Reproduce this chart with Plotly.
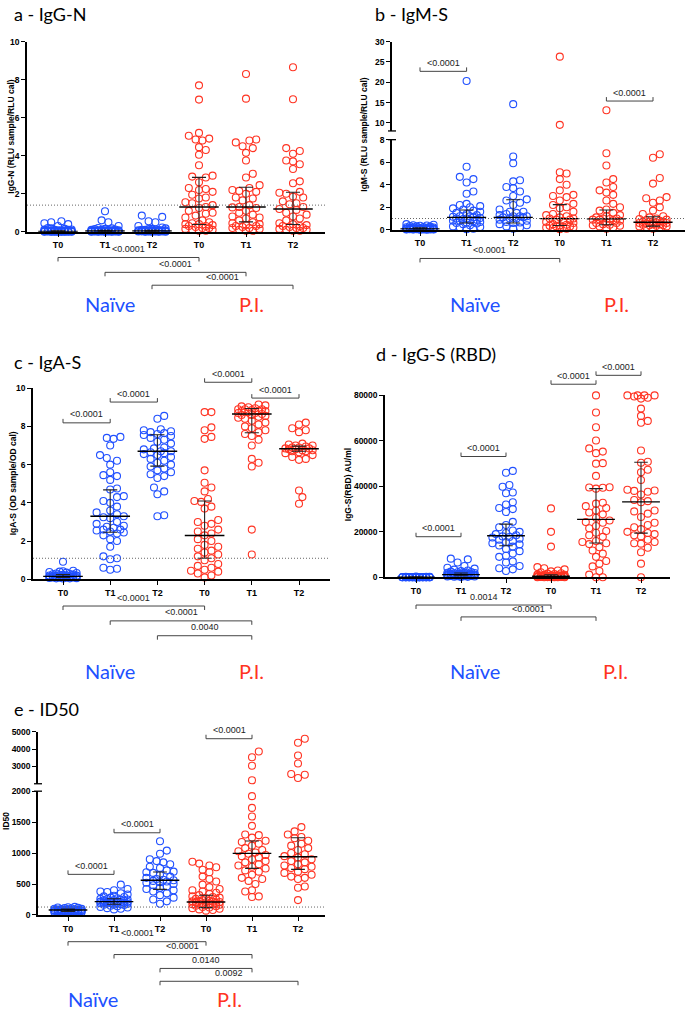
import numpy as np
import plotly.graph_objects as go

W, H = 685, 1016
BLUE = '#2050ff'
RED = '#ff3322'
GROUPS = ['T0', 'T1', 'T2', 'T0', 'T1', 'T2']

# ------------------------------------------------------------------ data
# a - IgG-N
a_naive_t0 = [0.55, 0.5, 0.45, 0.4, 0.3, 0.2, 0.18, 0.15, 0.12, 0.12, 0.1, 0.1, 0.08, 0.08, 0.07, 0.06, 0.06,
              0.05, 0.05, 0.05, 0.04, 0.04, 0.04, 0.03, 0.03, 0.03, 0.03, 0.02, 0.02, 0.02, 0.02, 0.02, 0.01,
              0.01, 0.01, 0.01, 0.01, 0.01, 0.0, 0.0, 0.0, 0.0, 0.0, 0.0, 0.0, 0.0]
a_naive_t1 = [1.08, 0.6, 0.5, 0.3, 0.2, 0.18, 0.15, 0.14, 0.12, 0.1, 0.1, 0.09, 0.08, 0.08, 0.07, 0.07, 0.06,
              0.06, 0.05, 0.05, 0.05, 0.04, 0.04, 0.04, 0.04, 0.03, 0.03, 0.03, 0.03, 0.02, 0.02, 0.02, 0.02,
              0.02, 0.01, 0.01, 0.01, 0.01, 0.01, 0.0, 0.0, 0.0, 0.0, 0.0]
a_naive_t2 = [0.85, 0.78, 0.55, 0.5, 0.3, 0.22, 0.18, 0.15, 0.14, 0.12, 0.1, 0.1, 0.09, 0.08, 0.08, 0.07, 0.07,
              0.06, 0.06, 0.05, 0.05, 0.05, 0.04, 0.04, 0.04, 0.03, 0.03, 0.03, 0.02, 0.02, 0.02, 0.02, 0.01,
              0.01, 0.01, 0.01, 0.0, 0.0, 0.0, 0.0]
a_pi_t0 = [7.7, 6.95, 5.2, 5.05, 4.9, 4.85, 4.8, 4.45, 4.3, 4.05, 3.5, 2.95, 2.9, 2.85, 2.6, 2.3, 2.25, 2.2, 2.1,
           1.95, 1.8, 1.75, 1.55, 1.5, 1.4, 1.3, 1.25, 1.1, 1.0, 0.95, 0.85, 0.75, 0.6, 0.5, 0.45, 0.4, 0.4,
           0.35, 0.3, 0.3, 0.25, 0.2, 0.2, 0.15, 0.1, 0.1, 0.05, 0.05]
a_pi_t1 = [8.3, 7.0, 4.85, 4.8, 4.7, 4.5, 4.4, 4.15, 3.75, 3.05, 2.85, 2.45, 2.3, 2.2, 2.15, 2.1, 2.0, 1.8, 1.75,
           1.65, 1.4, 1.3, 1.28, 1.25, 1.1, 1.0, 0.9, 0.8, 0.75, 0.7, 0.6, 0.5, 0.45, 0.4, 0.35, 0.3, 0.3, 0.25,
           0.2, 0.2, 0.15, 0.1, 0.05, 0.05]
a_pi_t2 = [8.65, 6.97, 4.4, 4.25, 4.1, 3.75, 3.7, 3.55, 3.3, 2.65, 2.55, 2.1, 2.05, 2.0, 1.85, 1.8, 1.6, 1.5,
           1.45, 1.3, 1.2, 1.15, 1.0, 0.9, 0.8, 0.7, 0.6, 0.45, 0.4, 0.35, 0.3, 0.3, 0.25, 0.2, 0.2, 0.15, 0.1,
           0.1, 0.05, 0.05]
a_median = [0.02, 0.04, 0.04, 1.3, 1.3, 1.2]
a_q1 = [0.01, 0.02, 0.02, 0.38, 0.52, 0.38]
a_q3 = [0.05, 0.08, 0.08, 2.86, 2.34, 2.08]
a_cutoff = 1.4

# b - IgM-S
b_naive_t0 = [0.5, 0.45, 0.4, 0.38, 0.35, 0.32, 0.3, 0.28, 0.25, 0.22, 0.2, 0.2, 0.18, 0.16, 0.15, 0.14, 0.13,
              0.12, 0.11, 0.1, 0.1, 0.09, 0.09, 0.08, 0.08, 0.07, 0.07, 0.06, 0.06, 0.05, 0.05, 0.05, 0.04,
              0.04, 0.03, 0.03, 0.02, 0.02, 0.02, 0.01, 0.01]
b_naive_t1 = [20.3, 5.6, 4.7, 4.5, 4.2, 3.4, 3.2, 2.3, 2.2, 2.1, 2.0, 1.9, 1.8, 1.7, 1.6, 1.5, 1.4, 1.3, 1.2,
              1.2, 1.15, 1.1, 1.05, 1.0, 1.0, 0.95, 0.9, 0.85, 0.8, 0.8, 0.75, 0.7, 0.65, 0.6, 0.55, 0.5, 0.4,
              0.3, 0.25, 0.2, 0.1, 0.05]
b_naive_t2 = [14.6, 6.5, 5.9, 4.4, 4.3, 3.8, 3.7, 3.4, 3.0, 2.7, 2.6, 2.4, 2.2, 1.8, 1.6, 1.6, 1.5, 1.4, 1.3,
              1.2, 1.2, 1.1, 1.0, 1.0, 0.9, 0.8, 0.7, 0.6, 0.5, 0.4, 0.3, 0.2, 0.1, 1.1, 1.2, 0.65]
b_pi_t0 = [26.3, 9.5, 5.1, 5.0, 4.5, 4.0, 3.5, 3.1, 3.0, 2.9, 2.6, 2.3, 2.2, 2.0, 1.9, 1.6, 1.4, 1.3, 1.2, 1.1,
           1.0, 0.9, 0.8, 0.7, 0.6, 0.5, 0.45, 0.4, 0.35, 0.3, 0.25, 0.2, 0.15, 0.1, 0.05, 1.0, 0.9, 0.3, 0.2]
b_pi_t1 = [13.1, 6.8, 5.7, 4.5, 4.2, 3.8, 3.5, 3.3, 3.1, 2.6, 2.3, 2.0, 1.8, 1.7, 1.5, 1.3, 1.2, 1.1, 1.0,
           0.95, 0.9, 0.85, 0.8, 0.7, 0.6, 0.5, 0.45, 0.4, 0.3, 0.2, 0.1, 1.0, 0.9, 0.6, 0.35]
b_pi_t2 = [6.7, 6.4, 4.6, 4.1, 2.9, 2.8, 2.6, 2.4, 2.0, 1.7, 1.4, 1.2, 1.1, 1.0, 0.95, 0.9, 0.85, 0.8, 0.75,
           0.7, 0.7, 0.65, 0.6, 0.55, 0.5, 0.45, 0.4, 0.35, 0.3, 0.25, 0.2, 0.1, 0.7, 0.6, 0.5, 0.4, 0.3]
b_median = [0.08, 1.1, 1.1, 0.99, 0.97, 0.67]
b_q1 = [0.04, 0.6, 0.6, 0.38, 0.44, 0.32]
b_q3 = [0.18, 1.75, 2.66, 2.23, 1.75, 1.15]
b_cutoff = 1.0

# c - IgA-S
c_naive_t0 = [0.92, 0.45, 0.42, 0.4, 0.38, 0.35, 0.33, 0.3, 0.28, 0.26, 0.25, 0.24, 0.22, 0.2, 0.2, 0.19,
              0.18, 0.17, 0.16, 0.15, 0.15, 0.14, 0.14, 0.13, 0.12, 0.12, 0.11, 0.1, 0.1, 0.09, 0.08, 0.08,
              0.07, 0.06, 0.05, 0.05, 0.04]
c_naive_t1 = [7.45, 7.4, 7.35, 7.0, 6.5, 6.35, 6.2, 6.0, 5.6, 5.45, 5.4, 5.2, 4.75, 4.7, 4.35, 4.3, 4.1, 4.0,
              3.8, 3.6, 3.5, 3.4, 3.3, 3.25, 3.2, 3.0, 2.9, 2.8, 2.75, 2.7, 2.6, 2.6, 2.55, 2.5, 2.45, 2.4, 2.3,
              2.1, 2.0, 1.7, 1.2, 1.1, 1.05, 0.6, 0.55, 0.5]
c_naive_t2 = [8.55, 8.4, 7.85, 7.8, 7.75, 7.7, 7.65, 7.6, 7.55, 7.5, 7.4, 7.3, 7.2, 7.1, 6.9, 6.85, 6.8, 6.7,
              6.7, 6.65, 6.6, 6.55, 6.5, 6.4, 6.3, 6.2, 6.1, 6.0, 5.9, 5.8, 5.7, 5.6, 5.5, 5.4, 5.3, 4.8, 4.6,
              4.45, 3.35, 3.3]
c_pi_t0 = [8.75, 8.75, 7.95, 7.8, 7.45, 7.35, 5.7, 5.05, 4.8, 4.6, 4.2, 4.1, 4.05, 3.8, 3.7, 3.1, 3.0, 2.9,
           2.8, 2.6, 2.5, 2.4, 2.3, 2.1, 2.0, 1.8, 1.7, 1.6, 1.5, 1.4, 1.3, 1.2, 1.1, 1.0, 0.8, 0.7, 0.6, 0.5,
           0.45, 0.4, 0.3, 0.2, 0.1]
c_pi_t1 = [9.15, 9.1, 9.05, 9.0, 8.95, 8.9, 8.9, 8.9, 8.85, 8.8, 8.8, 8.8, 8.75, 8.7, 8.7, 8.65, 8.6, 8.6,
           8.55, 8.5, 8.45, 8.4, 8.3, 8.2, 8.1, 8.0, 7.9, 7.8, 7.7, 7.6, 7.5, 7.3, 7.0, 6.3, 6.1, 5.9, 2.6, 1.3]
c_pi_t2 = [8.2, 8.1, 7.9, 7.8, 7.7, 7.1, 7.05, 7.0, 7.0, 6.95, 6.9, 6.9, 6.85, 6.85, 6.8, 6.8, 6.75, 6.75, 6.7,
           6.7, 6.65, 6.6, 6.5, 6.4, 6.3, 6.25, 4.65, 4.3, 3.95]
c_median = [0.15, 3.3, 6.7, 2.29, 8.65, 6.83]
c_q1 = [0.1, 2.46, 5.92, 1.1, 7.67, 6.7]
c_q3 = [0.25, 4.68, 7.56, 4.1, 8.94, 6.97]
c_cutoff = 1.1

# d - IgG-S (RBD)
d_naive_t0 = [300, 250, 200, 180, 150, 130, 120, 100, 90, 80, 70, 60, 60, 50, 50, 40, 40, 30, 30, 20, 20, 20,
              10, 10, 10, 5, 5, 0, 0, 0, 0, 0, 0, 0, 0, 0, 0, 0, 0, 0, 0, 0]
d_naive_t1 = [8200, 7900, 6500, 5000, 4200, 3800, 3400, 3000, 2700, 2500, 2300, 2200, 2100, 2000, 1900,
              1800, 1700, 1600, 1500, 1450, 1400, 1350, 1300, 1250, 1200, 1150, 1100, 1050, 1000, 950, 900,
              850, 800, 750, 700, 650, 600, 550, 500, 450, 400, 350, 300, 200, 100]
d_naive_t2 = [46800, 46000, 40600, 39800, 37300, 37000, 33000, 32000, 30500, 30000, 28700, 24400, 23000,
              22000, 20600, 20000, 19500, 19000, 18500, 18000, 17700, 17500, 17000, 16500, 16000, 15500,
              15000, 14500, 14000, 13500, 12500, 11500, 10500, 9500, 9000, 7000, 6500, 5000, 4000, 3500, 2800]
d_pi_t0 = [30300, 20000, 13500, 4500, 4000, 3500, 3000, 2600, 2200, 1800, 1600, 1400, 1200, 1100, 1000, 900,
           850, 800, 750, 700, 650, 600, 550, 500, 450, 400, 380, 350, 320, 300, 280, 250, 220, 200, 180, 150,
           120, 100, 80, 60, 40, 20, 0, 0]
d_pi_t1 = [80000, 72500, 66000, 60200, 56700, 55300, 54600, 50200, 50000, 44600, 39600, 39500, 39400, 39000,
           32800, 32400, 31300, 30500, 29400, 28500, 27700, 26200, 25000, 24300, 24000, 22600, 21600, 20400,
           19600, 18500, 17800, 16000, 15500, 15000, 14600, 13200, 11800, 10400, 9000, 7200, 6000, 4800,
           2800, 1200, 0, 0]
d_pi_t2 = [80000, 80000, 80000, 80000, 79500, 79000, 78600, 74200, 71000, 68800, 68000, 55800, 50800, 50400,
           47300, 46200, 42800, 38500, 38200, 38000, 37600, 36400, 34000, 33500, 33000, 29400, 29000, 28000,
           26500, 24000, 23000, 22000, 21200, 20000, 19500, 19000, 18500, 18000, 16500, 15500, 15000, 14800,
           13000, 11000, 6000, 0]
d_median = [30, 1200, 18300, 500, 25500, 33200]
d_q1 = [0, 700, 13900, 200, 15100, 19450]
d_q3 = [80, 1900, 23400, 1100, 39000, 50600]

# e - ID50
e_naive_t0 = [130, 125, 120, 115, 110, 105, 100, 98, 95, 92, 90, 88, 85, 82, 80, 78, 76, 75, 74, 72, 70, 68,
              66, 65, 64, 62, 60, 58, 56, 55, 52, 50, 48, 45, 42, 40, 35, 30]
e_naive_t1 = [490, 420, 400, 380, 370, 350, 330, 310, 300, 290, 280, 270, 260, 255, 250, 245, 240, 235, 230,
              225, 220, 215, 212, 210, 208, 205, 200, 198, 195, 192, 190, 185, 180, 175, 170, 165, 160, 150,
              140, 130, 120, 110, 100, 90]
e_naive_t2 = [1190, 1040, 990, 900, 870, 850, 820, 780, 760, 720, 700, 690, 680, 650, 620, 600, 580, 570, 560,
              550, 540, 530, 520, 500, 480, 460, 440, 420, 400, 380, 350, 320, 280, 250, 220, 180]
e_pi_t0 = [860, 830, 800, 770, 730, 690, 620, 580, 540, 490, 450, 420, 400, 380, 360, 340, 320, 300, 290, 280,
           270, 260, 250, 240, 230, 225, 220, 215, 210, 205, 200, 195, 190, 185, 180, 175, 170, 165, 160, 150,
           140, 130, 120, 110, 100, 90, 80, 70]
e_pi_t1 = [3860, 3530, 3040, 2200, 1920, 1730, 1590, 1440, 1300, 1290, 1250, 1200, 1180, 1150, 1120, 1080,
           1050, 1030, 1010, 990, 970, 950, 930, 900, 870, 850, 820, 800, 780, 750, 720, 700, 650, 600, 580,
           550, 500, 400, 380, 300, 290]
e_pi_t2 = [4600, 4370, 3630, 3170, 2560, 2520, 2330, 1420, 1350, 1300, 1260, 1240, 1200, 1150, 1120, 1080,
           1050, 1000, 980, 950, 930, 900, 870, 850, 820, 800, 780, 760, 740, 700, 680, 650, 620, 600, 580,
           460, 440, 240]
e_median = [80, 215, 560, 210, 995, 940]
e_q1 = [58, 172, 414, 118, 753, 737]
e_q3 = [95, 263, 693, 318, 1194, 1247]
e_cutoff = 128

# ------------------------------------------------------------------ helpers
FONT_TXT = 'Lato'
FONT_ARIAL = 'Liberation Sans, Arial'

fig = go.Figure()
layout = {}
shapes = []
annotations = []
counter = {'x': 0, 'y': 0}


def pxx(px):
    return px / W


def pxy(py):
    return 1 - py / H


def new_axis(kind):
    counter[kind] += 1
    n = counter[kind]
    ref = kind if n == 1 else f'{kind}{n}'
    key = f'{kind}axis' if n == 1 else f'{kind}axis{n}'
    return ref, key


def swarm(ypx, d=6.8, maxw=16.0):
    ypx = np.asarray(ypx, float)
    n = len(ypx)
    order = np.argsort(-ypx)
    cands = [0.0]
    k = 1
    while k * d / 2 <= maxw:
        cands += [k * d / 2, -k * d / 2]
        k += 1
    placed = []
    offs = np.zeros(n)
    for idx in order:
        y = ypx[idx]
        chosen = None
        best_c, best_s = 0.0, -1
        for c in cands:
            if placed:
                arr = np.array(placed)
                md = np.min(np.hypot(arr[:, 0] - c, arr[:, 1] - y))
            else:
                md = 1e9
            if md >= d:
                chosen = c
                break
            if md > best_s:
                best_s, best_c = md, c
        if chosen is None:
            chosen = best_c
        offs[idx] = chosen
        placed.append((chosen, y))
    return offs


def bracket(x0, x1, y, text, up=True):
    t = 4
    dy = t if up else -t
    shapes.append(dict(type='path', xref='paper', yref='paper',
                       path=f'M {pxx(x0)},{pxy(y + dy)} L {pxx(x0)},{pxy(y)} L {pxx(x1)},{pxy(y)} L {pxx(x1)},{pxy(y + dy)}',
                       line=dict(color='#444444', width=1)))
    annotations.append(dict(x=pxx((x0 + x1) / 2), y=pxy(y - 8.5), xref='paper', yref='paper', text=text,
                            showarrow=False, font=dict(family=FONT_ARIAL, size=9, color='#222222'),
                            xanchor='center', yanchor='middle'))


def text(x, y, s, size, color='black', family=FONT_TXT, anchor='left', angle=0, bold=False):
    annotations.append(dict(x=pxx(x), y=pxy(y), xref='paper', yref='paper', text=s, showarrow=False,
                            textangle=angle,
                            font=dict(family=family, size=size, color=color, weight='bold' if bold else 'normal'),
                            xanchor=anchor, yanchor='middle'))


def panel(xl, xr, cat0, step, segs, data, med, q1, q3, cutoff=None):
    xref, xkey = new_axis('x')
    seg_refs = []
    for s in segs:
        yref, ykey = new_axis('y')
        seg_refs.append(yref)
        layout[ykey] = dict(domain=[pxy(s['bot']), pxy(s['top'])], range=s['range'], tickvals=s['ticks'],
                            ticktext=[f'{v}' for v in s['ticks']],
                            anchor=xref, showline=True, linecolor='black', linewidth=1.5, ticks='outside',
                            ticklen=4, tickwidth=1.3, tickcolor='black', showgrid=False, zeroline=False,
                            tickfont=dict(family=FONT_ARIAL, size=8.5, color='black', weight='bold'))
    rng = [(xl - cat0) / step, (xr - cat0) / step]
    layout[xkey] = dict(domain=[pxx(xl), pxx(xr)], range=rng, tickvals=list(range(6)), ticktext=GROUPS,
                        anchor=seg_refs[0], showline=True, linecolor='black', linewidth=1.5, ticks='outside',
                        ticklen=4, tickwidth=1.3, tickcolor='black', showgrid=False, zeroline=False,
                        tickfont=dict(family=FONT_ARIAL, size=9, color='black', weight='bold'))

    def seg_index(v):
        for k, s in enumerate(segs):
            if s['range'][0] <= v <= s['range'][1]:
                return k
        return 0

    def to_px(v):
        s = segs[seg_index(v)]
        r0, r1 = s['range']
        return s['bot'] - (v - r0) / (r1 - r0) * (s['bot'] - s['top'])

    # cutoff line
    if cutoff is not None:
        shapes.append(dict(type='line', xref=xref, yref=seg_refs[0], x0=rng[0], x1=rng[1], y0=cutoff, y1=cutoff,
                           line=dict(color='#666666', width=1, dash='1px,2px')))
    # points
    for i, vals in enumerate(data):
        vals = np.asarray(vals, float)
        ypx = np.array([to_px(v) for v in vals])
        offs = swarm(ypx) / step
        color = BLUE if i < 3 else RED
        segidx = np.array([seg_index(v) for v in vals])
        for k in range(len(segs)):
            m = segidx == k
            if not m.any():
                continue
            fig.add_trace(go.Scatter(x=i + offs[m], y=vals[m], mode='markers', xaxis=xref, yaxis=seg_refs[k],
                                     cliponaxis=False,
                                     marker=dict(symbol='circle-open', size=7, color=color,
                                                 line=dict(width=1.1, color=color)),
                                     hoverinfo='skip', showlegend=False))
    # median / IQR
    for i in range(6):
        fig.add_trace(go.Scatter(x=[i, i, None, i - 0.15, i + 0.15, None, i - 0.15, i + 0.15],
                                 y=[q1[i], q3[i], None, q1[i], q1[i], None, q3[i], q3[i]], mode='lines',
                                 xaxis=xref, yaxis=seg_refs[0], cliponaxis=False,
                                 line=dict(color='#222222', width=1.1), hoverinfo='skip', showlegend=False))
        fig.add_trace(go.Scatter(x=[i - 0.42, i + 0.42], y=[med[i], med[i]], mode='lines',
                                 xaxis=xref, yaxis=seg_refs[0], cliponaxis=False,
                                 line=dict(color='black', width=1.4), hoverinfo='skip', showlegend=False))
    # axis break marks
    if len(segs) > 1:
        for yb in (segs[0]['top'], segs[1]['bot']):
            shapes.append(dict(type='line', xref='paper', yref='paper', x0=pxx(xl - 4), x1=pxx(xl + 4),
                               y0=pxy(yb), y1=pxy(yb), line=dict(color='black', width=1.3)))
    return [cat0 + i * step for i in range(6)]


# ------------------------------------------------------------------ panel a
cx = panel(27, 325, 58, 47.0, [dict(top=37, bot=229, range=[0, 10], ticks=[0, 2, 4, 6, 8, 10])],
           [a_naive_t0, a_naive_t1, a_naive_t2, a_pi_t0, a_pi_t1, a_pi_t2], a_median, a_q1, a_q3, a_cutoff)
text(12, 9, 'a - IgG-N', 18)
text(11, 133, 'IgG-N (RLU sample/RLU cal)', 8.5, family=FONT_ARIAL, anchor='center', angle=-90, bold=True)
bracket(cx[0], cx[3], 255, '&lt;0.0001')
bracket(cx[1], cx[4], 270, '&lt;0.0001')
bracket(cx[2], cx[5], 283, '&lt;0.0001')
text(110, 302, 'Naïve', 20, BLUE, anchor='center')
text(251, 302, 'P.I.', 20, RED, anchor='center')

# ------------------------------------------------------------------ panel b
cx = panel(392, 685, 420, 46.6, [dict(top=136, bot=227, range=[0, 8], ticks=[0, 2, 4, 6, 8]),
                                 dict(top=37, bot=127.2, range=[8, 30], ticks=[10, 15, 20, 25, 30])],
           [b_naive_t0, b_naive_t1, b_naive_t2, b_pi_t0, b_pi_t1, b_pi_t2], b_median, b_q1, b_q3, b_cutoff)
text(373, 9, 'b - IgM-S', 18)
text(364, 131, 'IgM-S (RLU sample/RLU cal)', 8.5, family=FONT_ARIAL, anchor='center', angle=-90, bold=True)
bracket(cx[0], cx[1], 67, '&lt;0.0001', up=False)
bracket(cx[4], cx[5], 97, '&lt;0.0001', up=False)
bracket(cx[0], cx[3], 256, '&lt;0.0001')
text(475, 302, 'Naïve', 20, BLUE, anchor='center')
text(616, 302, 'P.I.', 20, RED, anchor='center')

# ------------------------------------------------------------------ panel c
cx = panel(33, 330, 63, 47.2, [dict(top=387, bot=580, range=[0, 10], ticks=[0, 2, 4, 6, 8, 10])],
           [c_naive_t0, c_naive_t1, c_naive_t2, c_pi_t0, c_pi_t1, c_pi_t2], c_median, c_q1, c_q3, c_cutoff)
text(12, 361, 'c - IgA-S', 18)
text(13, 483, 'IgA-S (OD sample/OD cal)', 8.5, family=FONT_ARIAL, anchor='center', angle=-90, bold=True)
bracket(cx[0], cx[1], 422, '&lt;0.0001', up=False)
bracket(cx[1], cx[2], 401, '&lt;0.0001', up=False)
bracket(cx[3], cx[4], 381, '&lt;0.0001', up=False)
bracket(cx[4], cx[5], 397, '&lt;0.0001', up=False)
bracket(cx[0], cx[3], 607, '&lt;0.0001')
bracket(cx[1], cx[4], 622, '&lt;0.0001')
bracket(cx[2], cx[4], 637, '0.0040')
text(110, 673, 'Naïve', 20, BLUE, anchor='center')
text(251, 673, 'P.I.', 20, RED, anchor='center')

# ------------------------------------------------------------------ panel d
cx = panel(385, 670, 416, 45.0, [dict(top=394.3, bot=578, range=[0, 80000],
                                      ticks=[0, 20000, 40000, 60000, 80000])],
           [d_naive_t0, d_naive_t1, d_naive_t2, d_pi_t0, d_pi_t1, d_pi_t2], d_median, d_q1, d_q3, None)
text(374, 352, 'd - IgG-S (RBD)', 18)
text(348, 484, 'IgG-S(RBD) AU/ml', 8.5, family=FONT_ARIAL, anchor='center', angle=-90, bold=True)
bracket(cx[0], cx[1], 537, '&lt;0.0001', up=False)
bracket(cx[1], cx[2], 456, '&lt;0.0001', up=False)
bracket(cx[3], cx[4], 383, '&lt;0.0001', up=False)
bracket(cx[4], cx[5], 374, '&lt;0.0001', up=False)
bracket(cx[0], cx[3], 606, '0.0014')
bracket(cx[1], cx[4], 618, '&lt;0.0001')
text(475, 673, 'Naïve', 20, BLUE, anchor='center')
text(615, 673, 'P.I.', 20, RED, anchor='center')

# ------------------------------------------------------------------ panel e
cx = panel(38, 325, 68, 46.0, [dict(top=794, bot=919, range=[0, 2000], ticks=[0, 500, 1000, 1500, 2000]),
                               dict(top=734, bot=786.5, range=[2000, 5000], ticks=[3000, 4000, 5000])],
           [e_naive_t0, e_naive_t1, e_naive_t2, e_pi_t0, e_pi_t1, e_pi_t2], e_median, e_q1, e_q3, e_cutoff)
text(12, 711, 'e - ID50', 18)
text(6, 824, 'ID50', 8.5, family=FONT_ARIAL, anchor='center', angle=-90, bold=True)
bracket(cx[0], cx[1], 878, '&lt;0.0001', up=False)
bracket(cx[1], cx[2], 836, '&lt;0.0001', up=False)
bracket(cx[3], cx[4], 741, '&lt;0.0001', up=False)
bracket(cx[0], cx[3], 946, '&lt;0.0001')
bracket(cx[1], cx[4], 959, '&lt;0.0001')
bracket(cx[2], cx[4], 973, '0.0140')
bracket(cx[2], cx[5], 986, '0.0092')
text(93, 1004, 'Naïve', 20, BLUE, anchor='center')
text(229, 1004, 'P.I.', 20, RED, anchor='center')

fig.update_layout(width=W, height=H, margin=dict(l=0, r=0, t=0, b=0), paper_bgcolor='white',
                  plot_bgcolor='white', showlegend=False, shapes=shapes, annotations=annotations, **layout)
fig.write_html('out.html', config={'displayModeBar': False},
               post_script="document.body.style.margin='0';document.body.style.overflow='hidden';")
